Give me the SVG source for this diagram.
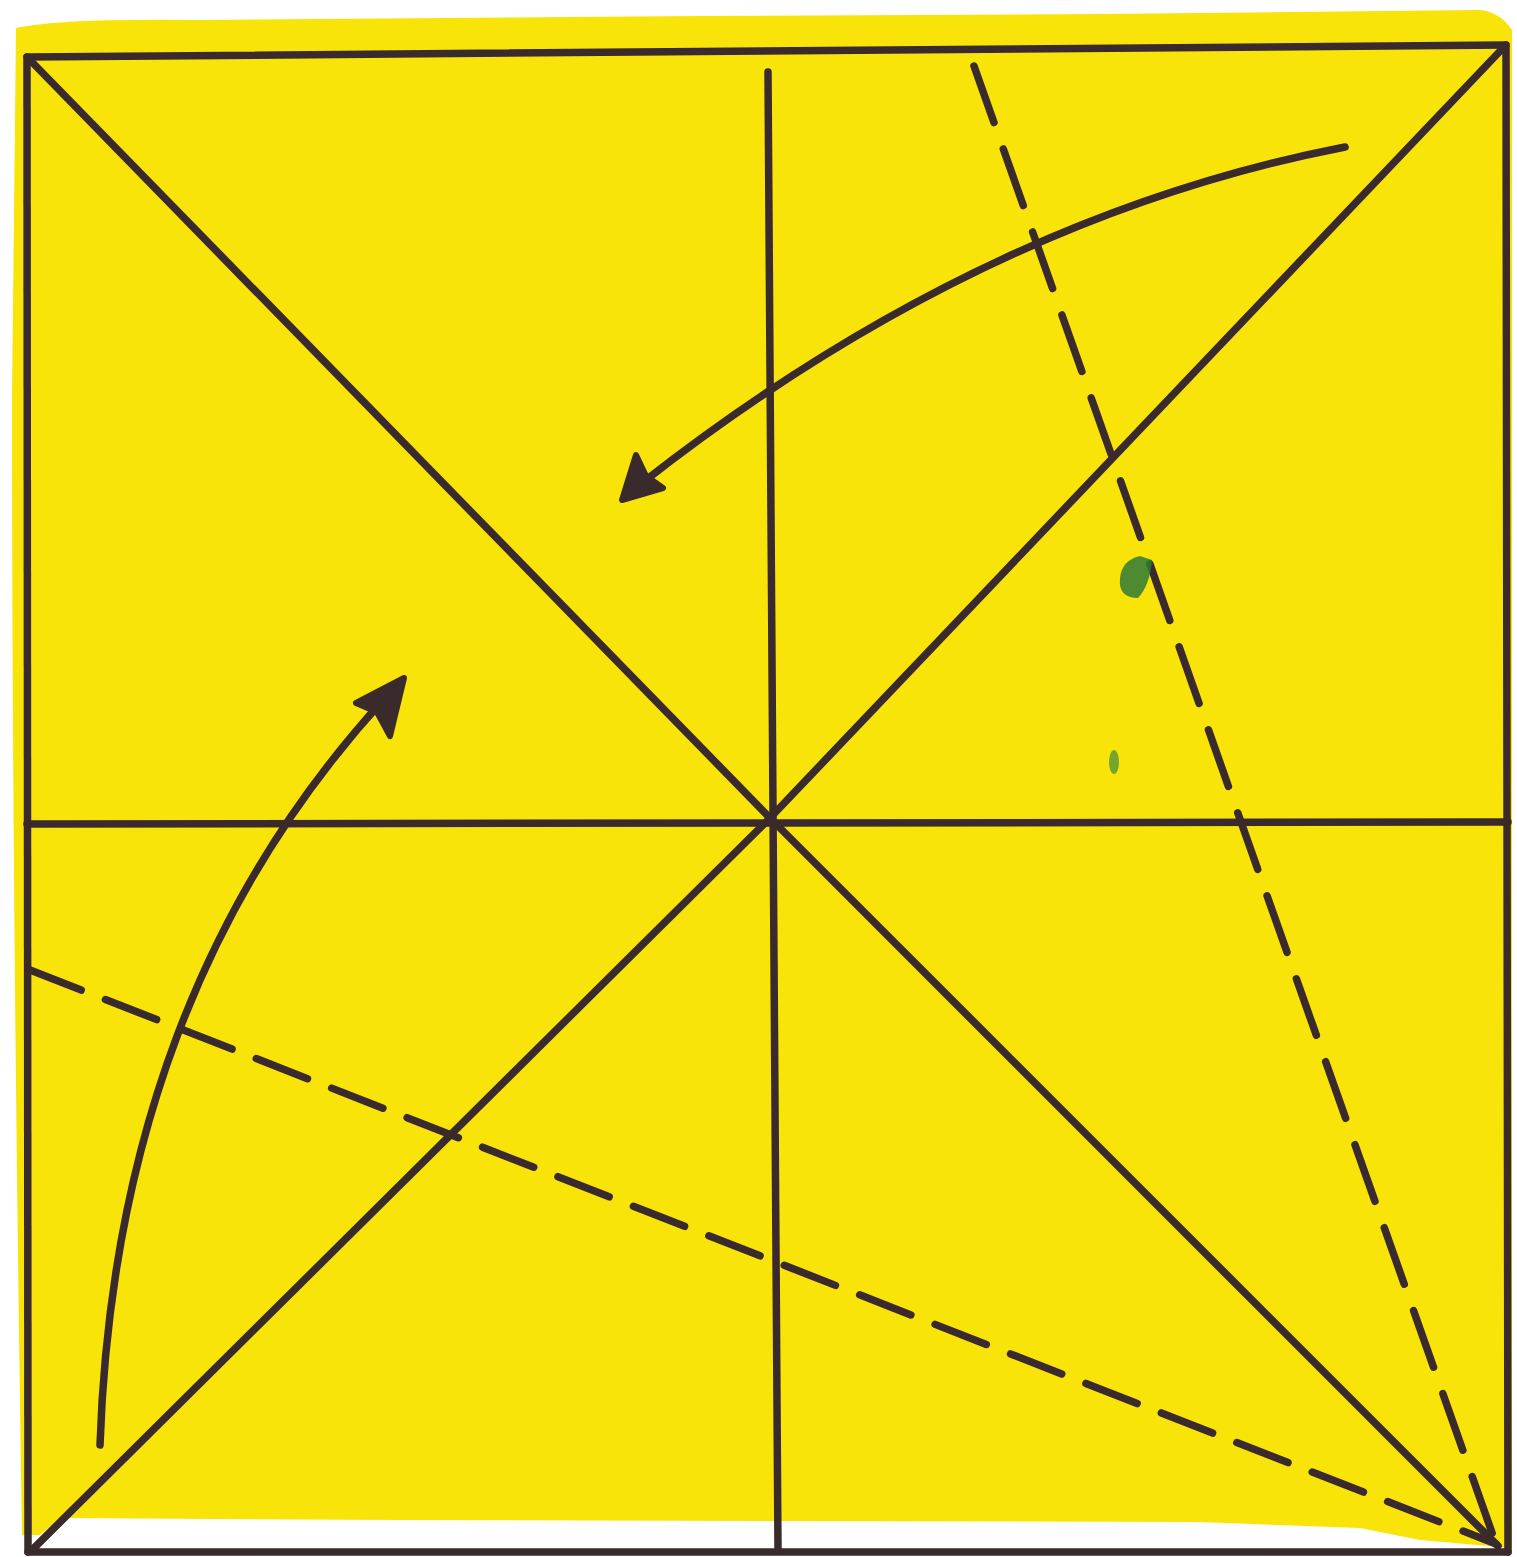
<svg xmlns="http://www.w3.org/2000/svg" width="1517" height="1557" viewBox="0 0 1517 1557">
<style>
.ln{stroke:#3a2a2c;stroke-width:7.5;fill:none;stroke-linecap:round;stroke-linejoin:round}
.dash{stroke-dasharray:60 28}
.dash2{stroke-dasharray:55 26}
.head{fill:#3a2a2c;stroke:#3a2a2c;stroke-width:6;stroke-linejoin:round}
</style>
<rect width="1517" height="1557" fill="#ffffff"/>
<g id="paper">
<path d="M16,28 Q60,18 200,20 L700,16 L1100,14 L1480,10 Q1500,12 1512,30 L1512,1548 L1420,1540 L1360,1528 L1200,1522 L400,1520 L60,1518 L40,1535 L22,1535 Q12,900 12,400 Z" fill="#f9e40a"/>
</g>
<g id="connectors">
<line class="ln" x1="27" y1="57" x2="1506" y2="45"/>
<line class="ln" x1="27" y1="57" x2="28" y2="1552"/>
<line class="ln" x1="1506" y1="45" x2="1508" y2="1552"/>
<line class="ln" x1="28" y1="1552" x2="1508" y2="1552"/>
<line class="ln" x1="27" y1="824" x2="1508" y2="822"/>
<line class="ln" x1="768" y1="72" x2="778" y2="1550"/>
<path class="ln" d="M28,58 L770,818 L1498,1546"/>
<path class="ln" d="M34,1548 L770,818 L1503,48"/>
<line class="ln dash" x1="974" y1="66" x2="1496" y2="1544"/>
<line class="ln dash2" x1="30" y1="970" x2="1496" y2="1544"/>
<path class="ln" d="M1345,147 Q980,218 642,483"/>
<path class="head" d="M622,500 L636,455 L646,476 L663,488 Z"/>
<path class="ln" d="M100,1445 C110,1150 200,900 385,698"/>
<path class="head" d="M404,678 L356,703 L377,712 L390,736 Z"/>
</g>
<g id="stains">
<path d="M1120,578 Q1122,560 1140,556 L1152,560 Q1150,585 1138,598 Q1118,598 1120,578 Z" fill="#2f7a3a" opacity="0.85"/>
<ellipse cx="1114" cy="762" rx="5" ry="12" fill="#3c8a3c" opacity="0.7"/>
</g>
</svg>
